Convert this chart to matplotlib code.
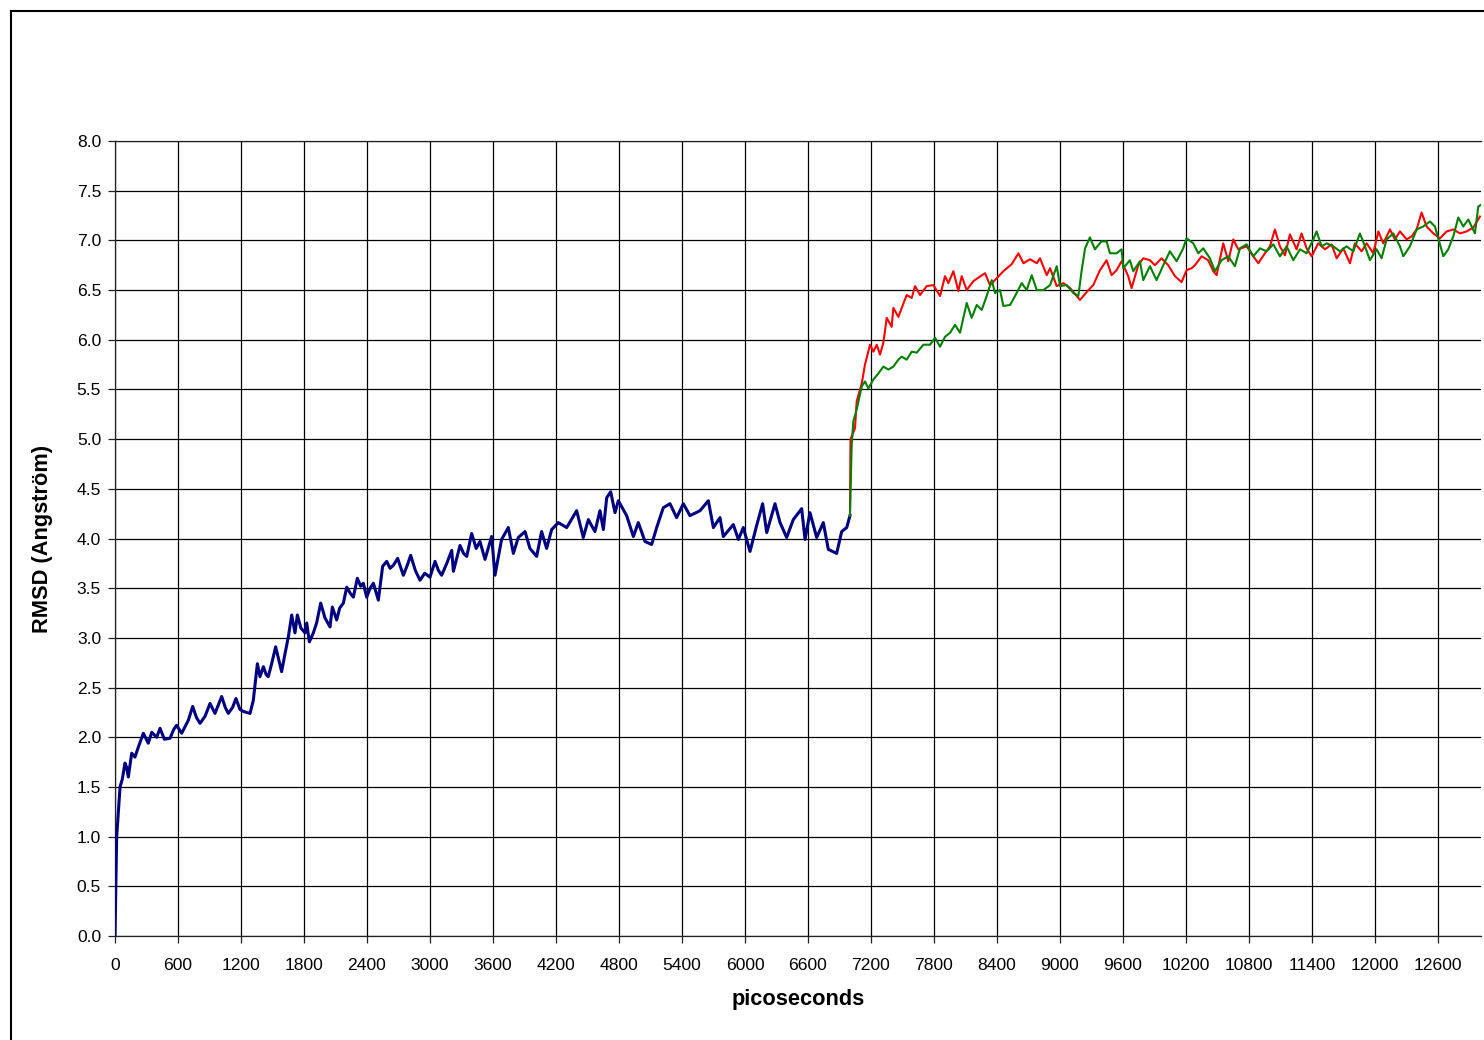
import matplotlib
matplotlib.use("Agg")
import matplotlib.pyplot as plt
from matplotlib.lines import Line2D

# ---------------- data ----------------
blue_t = [0, 16, 48, 70, 95, 110, 127, 159, 190, 222, 270, 317, 350, 397, 429, 470, 524, 560,
          587, 635, 698, 740, 775, 810, 857, 905, 952, 1016, 1050, 1079, 1120, 1152, 1190, 1222,
          1286, 1317, 1356, 1381, 1413, 1440, 1460, 1492, 1530, 1560, 1587, 1619, 1651, 1683,
          1714, 1737, 1770, 1810, 1826, 1851, 1889, 1920, 1959, 2000, 2048, 2070, 2111, 2140,
          2175, 2207, 2240, 2270, 2308, 2340, 2365, 2397, 2430, 2461, 2508, 2549, 2588, 2620,
          2651, 2692, 2746, 2780, 2816, 2860, 2905, 2950, 3000, 3048, 3080, 3111, 3160, 3207,
          3223, 3286, 3320, 3350, 3397, 3440, 3476, 3524, 3587, 3619, 3682, 3746, 3794, 3841,
          3905, 3952, 4016, 4063, 4111, 4159, 4222, 4302, 4397, 4460, 4508, 4571, 4619, 4651,
          4683, 4721, 4762, 4794, 4873, 4937, 4984, 5048, 5111, 5159, 5222, 5286, 5349, 5413,
          5476, 5572, 5651, 5699, 5762, 5794, 5889, 5937, 5984, 6048, 6111, 6168, 6207, 6286,
          6334, 6397, 6460, 6540, 6572, 6619, 6683, 6746, 6794, 6873, 6921, 6969, 7000]
blue_v = [0.00, 1.00, 1.50, 1.58, 1.74, 1.70, 1.60, 1.84, 1.80, 1.90, 2.04, 1.94, 2.05, 2.00,
          2.09, 1.98, 1.99, 2.08, 2.12, 2.04, 2.17, 2.31, 2.20, 2.14, 2.21, 2.34, 2.24, 2.41,
          2.30, 2.24, 2.30, 2.39, 2.28, 2.26, 2.24, 2.37, 2.74, 2.61, 2.71, 2.63, 2.61, 2.74,
          2.91, 2.78, 2.66, 2.84, 3.01, 3.23, 3.05, 3.23, 3.10, 3.05, 3.15, 2.96, 3.05, 3.15,
          3.35, 3.20, 3.11, 3.31, 3.18, 3.30, 3.35, 3.51, 3.45, 3.41, 3.60, 3.52, 3.55, 3.41,
          3.50, 3.55, 3.38, 3.72, 3.77, 3.70, 3.73, 3.80, 3.63, 3.72, 3.83, 3.68, 3.58, 3.65,
          3.61, 3.77, 3.68, 3.63, 3.75, 3.88, 3.67, 3.93, 3.85, 3.82, 4.05, 3.90, 3.97, 3.79,
          4.02, 3.63, 3.99, 4.11, 3.85, 4.01, 4.07, 3.90, 3.82, 4.07, 3.90, 4.09, 4.16, 4.11,
          4.28, 4.01, 4.19, 4.07, 4.28, 4.09, 4.41, 4.47, 4.26, 4.38, 4.23, 4.02, 4.16, 3.97,
          3.94, 4.11, 4.31, 4.35, 4.21, 4.35, 4.23, 4.28, 4.38, 4.11, 4.21, 4.02, 4.14, 3.99,
          4.11, 3.87, 4.13, 4.35, 4.06, 4.35, 4.16, 4.01, 4.19, 4.30, 3.99, 4.26, 4.01, 4.16,
          3.89, 3.85, 4.07, 4.11, 4.23]

red_t = [7000, 7005, 7048, 7064, 7112, 7143, 7191, 7223, 7255, 7286, 7318, 7350, 7397, 7413,
         7461, 7493, 7540, 7588, 7620, 7667, 7731, 7794, 7858, 7905, 7937, 7985, 8032, 8064,
         8112, 8175, 8286, 8334, 8398, 8461, 8540, 8604, 8652, 8715, 8779, 8810, 8874, 8906,
         8969, 9033, 9096, 9160, 9191, 9254, 9317, 9381, 9444, 9492, 9539, 9587, 9650, 9682,
         9746, 9793, 9857, 9904, 9968, 10031, 10095, 10158, 10206, 10254, 10285, 10349, 10412,
         10460, 10492, 10555, 10603, 10651, 10698, 10778, 10841, 10889, 10952, 11000, 11047,
         11095, 11143, 11190, 11254, 11301, 11349, 11397, 11460, 11524, 11587, 11635, 11698,
         11762, 11809, 11873, 11921, 11984, 12032, 12079, 12143, 12190, 12238, 12302, 12349,
         12397, 12444, 12492, 12556, 12619, 12683, 12746, 12810, 12873, 12937, 13000]
red_v = [4.23, 5.00, 5.11, 5.38, 5.56, 5.75, 5.95, 5.88, 5.95, 5.85, 5.97, 6.22, 6.13, 6.32,
         6.23, 6.32, 6.45, 6.42, 6.54, 6.45, 6.54, 6.55, 6.44, 6.64, 6.57, 6.69, 6.49, 6.64,
         6.50, 6.59, 6.67, 6.55, 6.62, 6.69, 6.76, 6.87, 6.77, 6.81, 6.77, 6.82, 6.65, 6.72,
         6.54, 6.57, 6.52, 6.44, 6.40, 6.48, 6.55, 6.70, 6.80, 6.65, 6.70, 6.79, 6.64, 6.52,
         6.75, 6.82, 6.80, 6.75, 6.82, 6.75, 6.64, 6.58, 6.70, 6.72, 6.75, 6.84, 6.80, 6.69,
         6.65, 6.97, 6.79, 7.01, 6.91, 6.94, 6.84, 6.77, 6.87, 6.94, 7.11, 6.94, 6.85, 7.06,
         6.91, 7.07, 6.92, 6.84, 6.97, 6.91, 6.96, 6.82, 6.92, 6.77, 6.97, 6.89, 6.97, 6.87,
         7.09, 6.97, 7.11, 7.01, 7.09, 7.01, 7.04, 7.11, 7.28, 7.14, 7.07, 7.02, 7.09, 7.11,
         7.07, 7.09, 7.13, 7.24]

green_t = [7000, 7016, 7032, 7064, 7112, 7143, 7175, 7223, 7270, 7318, 7366, 7413, 7461, 7493,
           7540, 7588, 7636, 7699, 7763, 7810, 7858, 7905, 7953, 8001, 8048, 8080, 8112, 8159,
           8207, 8255, 8302, 8350, 8382, 8429, 8461, 8525, 8572, 8636, 8683, 8731, 8779, 8842,
           8906, 8969, 9001, 9064, 9128, 9175, 9207, 9239, 9285, 9333, 9396, 9444, 9476, 9539,
           9587, 9603, 9666, 9698, 9762, 9793, 9857, 9920, 9984, 10047, 10111, 10174, 10206,
           10270, 10317, 10365, 10428, 10476, 10539, 10603, 10666, 10714, 10778, 10841, 10905,
           10968, 11032, 11095, 11159, 11222, 11286, 11349, 11413, 11444, 11492, 11540, 11603,
           11667, 11730, 11794, 11857, 11905, 11952, 12016, 12063, 12111, 12175, 12238, 12270,
           12333, 12397, 12460, 12524, 12571, 12603, 12651, 12698, 12746, 12794, 12841, 12889,
           12952, 12984, 13013]
green_v = [4.23, 4.93, 5.18, 5.30, 5.53, 5.58, 5.51, 5.60, 5.66, 5.73, 5.70, 5.73, 5.80, 5.83,
           5.80, 5.88, 5.87, 5.95, 5.95, 6.02, 5.93, 6.03, 6.07, 6.15, 6.07, 6.22, 6.37, 6.22,
           6.35, 6.30, 6.44, 6.60, 6.47, 6.50, 6.34, 6.35, 6.44, 6.57, 6.50, 6.65, 6.50, 6.50,
           6.55, 6.74, 6.54, 6.55, 6.47, 6.44, 6.70, 6.92, 7.03, 6.91, 6.99, 6.99, 6.87, 6.87,
           6.91, 6.72, 6.80, 6.69, 6.79, 6.60, 6.74, 6.60, 6.75, 6.89, 6.79, 6.92, 7.02, 6.97,
           6.87, 6.92, 6.82, 6.69, 6.80, 6.84, 6.74, 6.92, 6.96, 6.84, 6.92, 6.89, 6.96, 6.84,
           6.94, 6.80, 6.91, 6.87, 7.01, 7.09, 6.94, 6.97, 6.94, 6.89, 6.94, 6.89, 7.07, 6.94,
           6.80, 6.91, 6.82, 7.01, 7.07, 6.94, 6.84, 6.94, 7.11, 7.14, 7.19, 7.14, 7.02, 6.84,
           6.91, 7.04, 7.23, 7.14, 7.21, 7.07, 7.34, 7.36]

x_ticks = list(range(0, 13000, 600))
y_ticks = [0.0, 0.5, 1.0, 1.5, 2.0, 2.5, 3.0, 3.5, 4.0, 4.5, 5.0, 5.5, 6.0, 6.5, 7.0, 7.5, 8.0]
x_label = "picoseconds"
y_label = "RMSD (Angström)"

# ---------------- figure ----------------
W, H = 1484, 1040
plt.rcParams['font.family'] = ['Liberation Sans', 'DejaVu Sans']
fig = plt.figure(figsize=(W / 100, H / 100), dpi=100)
fig.patch.set_facecolor('white')

ax = fig.add_axes([115 / W, 1 - 936 / H, (1481 - 115) / W, (936 - 141) / H])
ax.set_xlim(0, 13010)
ax.set_ylim(0, 8)

ax.plot(blue_t, blue_v, color='#000080', lw=2.2, zorder=3, solid_joinstyle='round')
ax.plot(red_t, red_v, color='#FF0000', lw=1.5, zorder=4, solid_joinstyle='round')
ax.plot(green_t, green_v, color='#008000', lw=1.5, zorder=5, solid_joinstyle='round')

ax.set_xticks(x_ticks)
ax.set_xticklabels([str(v) for v in x_ticks])
ax.set_yticks(y_ticks)
ax.set_yticklabels([f"{v:.1f}" for v in y_ticks])
ax.grid(True, color='black', lw=0.9)
ax.set_axisbelow(True)

for side in ['right']:
    ax.spines[side].set_visible(False)
for side in ['left', 'bottom', 'top']:
    ax.spines[side].set_color('#222222')
    ax.spines[side].set_linewidth(0.9)

ax.tick_params(axis='both', direction='out', length=5, width=0.9, color='#222222',
               labelsize=12.6, labelcolor='black')
ax.tick_params(axis='x', pad=11)
ax.tick_params(axis='y', pad=5)

fig.text(798 / W, 1 - 1005 / H, x_label, ha='center', va='baseline',
         fontsize=15.7, fontweight='bold')
fig.text(43 / W, 1 - 539 / H, y_label, ha='center', va='center', rotation=90,
         fontsize=15.7, fontweight='bold')

# outer frame (left and top edges visible)
fig.add_artist(Line2D([11 / W, 11 / W], [0, 1 - 11 / H], color='black', lw=1.5,
                      transform=fig.transFigure))
fig.add_artist(Line2D([11 / W, 1], [1 - 11 / H, 1 - 11 / H], color='black', lw=1.5,
                      transform=fig.transFigure))

fig.savefig('out.png', dpi=100)
